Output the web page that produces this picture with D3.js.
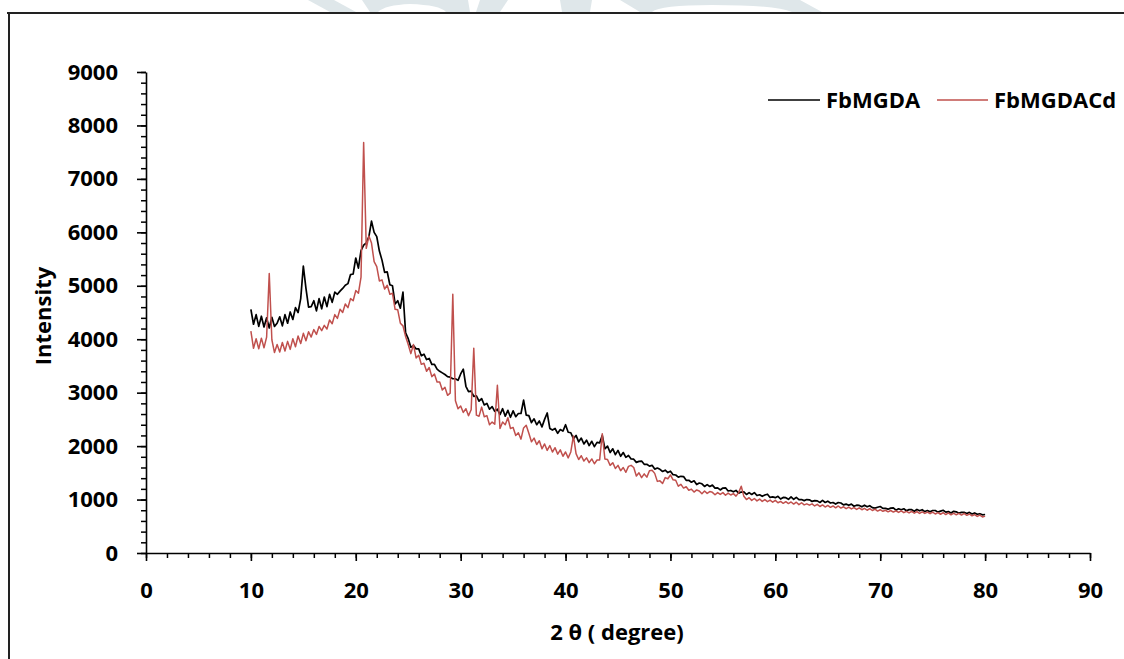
<!DOCTYPE html>
<html><head><meta charset="utf-8">
<script src="https://cdn.jsdelivr.net/npm/d3@7"></script>
<style>
html,body{margin:0;padding:0;background:#fff;}
svg{display:block;}
text{font-family:"Open Sans",sans-serif;font-weight:700;fill:#000;}
</style></head>
<body><svg id="c" width="1124" height="659"></svg>
<script>
// ---- data ----
const thetaStart = 10, thetaStep = 0.25; // 2θ grid 10..80
const FbMGDA = [
4560,4280,4460,4240, 4430,4230,4400,4210, 4410,4240,4300,4420, 4250,4460,4300,4510,
4370,4590,4500,4760, 5370,4950,4600,4610, 4720,4530,4760,4570, 4790,4610,4840,4690,
4880,4840,4900,4950, 5010,5040,5210,5220, 5520,5330,5660,5760, 5800,5920,6210,6000,
5920,5650,5480,5250, 5260,5020,5000,4660, 4720,4580,4880,4120, 4010,3850,3880,3820,
3820,3690,3720,3620, 3640,3530,3530,3440, 3400,3370,3340,3300, 3290,3260,3260,3230,
3350,3440,3120,3020, 3030,2930,2940,2840, 2890,2770,2800,2690, 2740,2650,2690,2590,
2700,2560,2670,2540, 2660,2550,2610,2610, 2860,2580,2570,2440, 2510,2400,2470,2360,
2500,2620,2330,2300, 2330,2240,2310,2280, 2400,2260,2250,2140, 2200,2080,2150,2040,
2110,2010,2090,1990, 2070,2060,2200,1950, 2000,1880,1950,1840, 1920,1810,1880,1790,
1825,1760,1755,1695, 1715,1720,1660,1660, 1625,1640,1570,1590, 1565,1525,1550,1505,
1530,1465,1460,1420, 1435,1430,1360,1360, 1325,1350,1280,1310, 1295,1245,1280,1245,
1270,1215,1220,1180, 1215,1220,1160,1170, 1145,1170,1120,1140, 1145,1095,1130,1095,
1130,1075,1090,1060, 1085,1100,1040,1050, 1035,1060,1010,1040, 1035,1005,1050,1005,
1040,1000,1000,980, 1000,995,965,980, 975,945,985,945, 970,935,945,915,
945,935,900,915, 895,915,875,895, 890,865,895,865, 885,850,840,855,
870,835,835,820, 840,845,802,828, 810,827,790,812, 810,780,815,790,
810,775,795,770, 795,795,765,783, 800,765,775,750, 780,770,745,760,
760,740,760,730, 750,725,735,715, 720];
const FbMGDACd = [
4150,3830,4010,3820, 4020,3840,4040,5230, 3990,3750,3900,3760, 3940,3780,3960,3810,
4010,3860,4060,3920, 4110,3970,4140,4040, 4180,4090,4240,4160, 4260,4190,4360,4290,
4460,4390,4560,4500, 4660,4590,4760,4720, 4910,4860,5160,7680, 5700,5930,5800,5450,
5360,5090,5110,4940, 5010,4840,4860,4560, 4550,4300,4250,4050, 3900,3730,3900,3650,
3700,3530,3550,3400, 3470,3300,3350,3200, 3200,3050,3100,2950, 2990,4840,2850,2700,
2750,2630,2700,2570, 2680,3830,2580,2560, 2730,2550,2570,2400, 2450,2410,3140,2330,
2450,2400,2530,2330, 2350,2200,2250,2130, 2340,2390,2240,2080, 2150,2030,2100,1950,
2040,1920,2010,1890, 1970,1850,1930,1810, 1890,1780,1890,2190, 1860,1750,1820,1720,
1780,1690,1760,1670, 1740,1740,2230,1760, 1750,1640,1690,1580, 1640,1540,1600,1510,
1620,1640,1600,1440, 1500,1410,1480,1420, 1540,1550,1490,1340, 1350,1300,1410,1390,
1460,1370,1360,1250, 1285,1215,1240,1175, 1195,1140,1180,1160, 1110,1160,1115,1150,
1135,1090,1130,1095, 1130,1080,1120,1085, 1110,1065,1130,1250, 1060,1000,1035,985,
1020,975,1010,965, 1000,960,990,950, 985,940,965,930, 960,925,955,915,
950,905,940,900, 920,895,920,880, 910,870,900,860, 890,855,880,845,
880,840,865,830, 860,825,850,815, 845,810,835,800, 830,795,820,785,
810,780,800,770, 795,765,790,760, 790,755,780,750, 780,745,775,740,
770,740,765,735, 765,730,755,725, 755,720,750,715, 745,715,740,710,
740,705,730,695, 720,685,710,675, 690];
const xTicks = [0,10,20,30,40,50,60,70,80,90];
const yTicks = [0,1000,2000,3000,4000,5000,6000,7000,8000,9000];
const seriesNames = ["FbMGDA","FbMGDACd"];
const seriesColors = ["#000000","#c0504d"];

// ---- chart ----
const svg = d3.select("#c");
svg.append("rect").attr("width",1124).attr("height",659).attr("fill","#fff");

// faint watermark above frame
const wm = svg.append("g").attr("fill","#dfe7ea");
[
 "M308,0 L334,0 L356,12 L330,12 Z",
 "M362,0 L468,0 L470,12 L446,12 Q440,5 410,4 Q385,5 378,12 L370,12 Z",
 "M480,0 L508,0 L500,12 L476,12 Z",
 "M560,0 L592,0 L590,12 L562,12 Z",
 "M620,0 L800,0 L822,12 L792,12 Q775,5 712,5 Q660,5 652,12 L640,12 Z"
].forEach(d=>wm.append("path").attr("d",d));

// frame
svg.append("line").attr("x1",7).attr("x2",1124).attr("y1",13).attr("y2",13)
  .attr("stroke","#222").attr("stroke-width",2);
svg.append("line").attr("x1",9).attr("x2",9).attr("y1",12).attr("y2",659)
  .attr("stroke","#222").attr("stroke-width",2);

const x = d3.scaleLinear().domain([0,90]).range([146,1090]);
const y = d3.scaleLinear().domain([0,9000]).range([553,72]);

const fs = 22;
// minor ticks
svg.append("g").attr("transform","translate(0,553)")
  .call(d3.axisBottom(x).tickValues(d3.range(0,91,2)).tickSize(5).tickSizeOuter(0).tickFormat(""))
  .call(g=>g.select(".domain").remove())
  .call(g=>g.selectAll("line").attr("stroke","#000").attr("stroke-width",1.5));
svg.append("g").attr("transform","translate(146,0)")
  .call(d3.axisLeft(y).tickValues(d3.range(0,9001,200)).tickSize(5).tickSizeOuter(0).tickFormat(""))
  .call(g=>g.select(".domain").remove())
  .call(g=>g.selectAll("line").attr("stroke","#000").attr("stroke-width",1.5));

// major axes
const gx = svg.append("g").attr("transform","translate(0,553)")
  .call(d3.axisBottom(x).tickValues(xTicks).tickSize(8).tickSizeOuter(0).tickPadding(21).tickFormat(d3.format("d")));
const gy = svg.append("g").attr("transform","translate(146,0)")
  .call(d3.axisLeft(y).tickValues(yTicks).tickSize(9).tickSizeOuter(0).tickPadding(19).tickFormat(d3.format("d")));
[gx,gy].forEach(g=>{
  g.select(".domain").attr("stroke","#000").attr("stroke-width",1.6);
  g.selectAll(".tick line").attr("stroke","#000").attr("stroke-width",1.6);
  g.selectAll(".tick text").attr("font-family","Open Sans, sans-serif")
   .attr("font-weight",700).attr("font-size",fs).attr("fill","#000");
});

// series (red drawn last, on top)
const line = d3.line().x((d,i)=>x(thetaStart+i*thetaStep)).y(d=>y(d));
const plotG = svg.append("g");
[FbMGDA,FbMGDACd].forEach((s,k)=>{
  plotG.append("path").datum(s).attr("d",line).attr("fill","none")
    .attr("stroke",seriesColors[k]).attr("stroke-width",k===0?1.7:1.5).attr("stroke-linejoin","round");
});

// legend
const leg = [{x1:768,x2:820,tx:826},{x1:937,x2:988,tx:994}];
leg.forEach((l,k)=>{
  svg.append("line").attr("x1",l.x1).attr("x2",l.x2).attr("y1",100).attr("y2",100)
    .attr("stroke",seriesColors[k]).attr("stroke-width",1.5);
  svg.append("text").attr("x",l.tx).attr("y",108).attr("font-size",fs).text(seriesNames[k]);
});

// axis titles
svg.append("text").attr("transform","translate(51,316) rotate(-90)")
  .attr("text-anchor","middle").attr("font-size",fs).text("Intensity");
svg.append("text").attr("x",617).attr("y",640).attr("text-anchor","middle")
  .attr("font-size",fs).text("2 θ ( degree)");
</script></body></html>
